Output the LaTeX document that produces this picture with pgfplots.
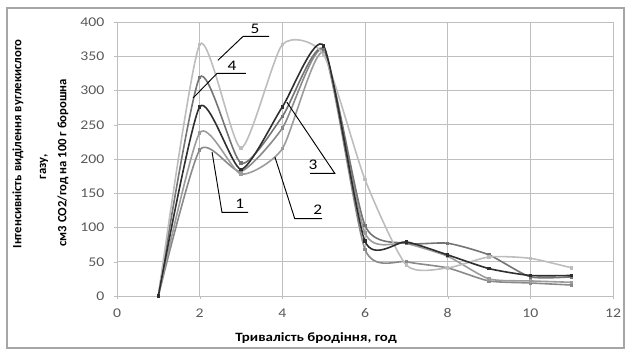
\documentclass[border=0pt]{standalone}
\usepackage{fontspec}
\setmainfont{Carlito}
\newfontfamily\stretchfont{Carlito}[FakeStretch=1.18]
\usepackage{pgfplots}
\pgfplotsset{compat=1.18}
\definecolor{gridc}{HTML}{BFBFBF}
\definecolor{tickc}{HTML}{595959}
\definecolor{cA}{HTML}{8A8A8A}
\definecolor{cB}{HTML}{9C9C9C}
\definecolor{cC}{HTML}{2E2E2E}
\definecolor{cD}{HTML}{747474}
\definecolor{cE}{HTML}{BDBDBD}
\begin{document}
\begin{tikzpicture}
\path[use as bounding box] (-87.75pt,-39.75pt) rectangle (381pt,222pt);
\draw[gray!70, line width=0.8pt] (-82.5pt,-39pt) rectangle (380.25pt,216pt);
\begin{axis}[
  at={(0,0)}, anchor=south west,
  scale only axis, width=372pt, height=205.5pt,
  xmin=0, xmax=12, ymin=0, ymax=400,
  xtick={0,2,...,12}, ytick={0,50,...,400},
  grid=major, grid style={gridc, line width=0.6pt},
  axis line style={gridc, line width=0.6pt},
  tick style={gridc}, tick align=outside, major tick length=2pt,
  xtick pos=bottom, ytick pos=left,
  /pgf/number format/assume math mode=true,
  ticklabel style={font=\stretchfont\fontsize{10pt}{11pt}\selectfont, text=tickc},
  xticklabel style={yshift=-4pt},
  yticklabel style={xshift=-4pt},
  clip=false,
  every axis plot/.append style={smooth, tension=0.38, line width=1.2pt, mark size=0.7pt, mark=square*},
]
% series 1
\addplot[cA, mark options={fill=cA}] coordinates {(1,0) (2,213) (3,182) (4,245) (5,358) (6,68) (7,50) (8,41) (9,22) (10,19) (11,16)};
% series 2
\addplot[cB, mark options={fill=cB}] coordinates {(1,0) (2,238) (3,178) (4,215) (5,355) (6,92) (7,77) (8,58) (9,25) (10,22) (11,20)};
% series 4
\addplot[cD, mark options={fill=cD}] coordinates {(1,0) (2,319) (3,194) (4,262) (5,360) (6,103) (7,77) (8,77) (9,60) (10,28) (11,28)};
% series 5
\addplot[cE, mark options={fill=cE}] coordinates {(1,0) (2,367) (3,216) (4,367) (5,352) (6,170) (7,45) (8,41) (9,57) (10,55) (11,41)};
% series 3
\addplot[cC, mark options={fill=cC}] coordinates {(1,0) (2,276) (3,185) (4,276) (5,365) (6,80) (7,79) (8,60) (9,40) (10,30) (11,30)};
% leaders
\draw[black, line width=0.7pt] (axis cs:2.44,344) -- (axis cs:3.05,379) -- (axis cs:3.68,379);
\node[font=\stretchfont\fontsize{11pt}{12pt}\selectfont] at (axis cs:3.34,390) {5};
\draw[black, line width=0.7pt] (axis cs:1.84,289) -- (axis cs:2.42,325) -- (axis cs:3.12,325);
\node[font=\stretchfont\fontsize{11pt}{12pt}\selectfont] at (axis cs:2.78,336) {4};
\draw[black, line width=0.7pt] (axis cs:4.11,283) -- (axis cs:5.27,179) -- (axis cs:4.67,179);
\node[font=\stretchfont\fontsize{11pt}{12pt}\selectfont] at (axis cs:4.74,192) {3};
\draw[black, line width=0.7pt] (axis cs:3.82,203) -- (axis cs:4.30,113) -- (axis cs:4.96,113);
\node[font=\stretchfont\fontsize{11pt}{12pt}\selectfont] at (axis cs:4.86,126) {2};
\draw[black, line width=0.7pt] (axis cs:2.30,210) -- (axis cs:2.54,122) -- (axis cs:3.17,122);
\node[font=\stretchfont\fontsize{11pt}{12pt}\selectfont] at (axis cs:2.97,134) {1};
\end{axis}
\node[font=\stretchfont\bfseries\fontsize{9.5pt}{11pt}\selectfont] at (149.25pt,-31.5pt) {Тривалість бродіння, год};
\node[rotate=90, font=\bfseries\fontsize{9.5pt}{11pt}\selectfont] at (-74.25pt,114pt) {Інтенсивність виділення вуглекислого};
\node[rotate=90, font=\bfseries\fontsize{9.5pt}{11pt}\selectfont] at (-54.75pt,97pt) {газу,};
\node[rotate=90, font=\bfseries\fontsize{9.5pt}{11pt}\selectfont] at (-40.5pt,100pt) {см3 СО2/год на 100 г борошна};
\end{tikzpicture}
\end{document}
